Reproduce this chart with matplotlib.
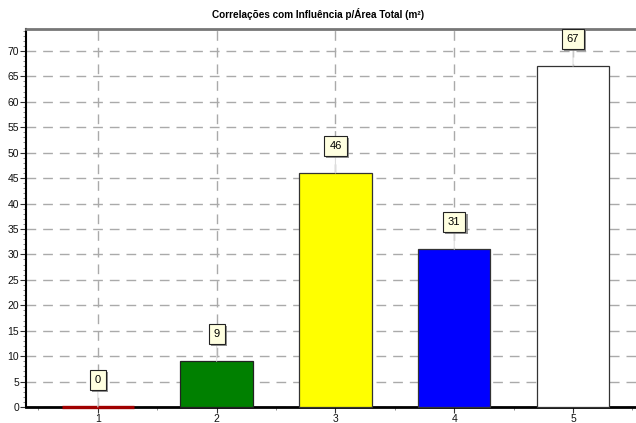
import matplotlib.pyplot as plt
import matplotlib.patheffects as pe
from matplotlib.ticker import MultipleLocator

plt.rcParams['font.family'] = ['Liberation Sans', 'DejaVu Sans']

# dados
categorias = [1, 2, 3, 4, 5]
valores = [0, 9, 46, 31, 67]
cores = ['#b00000', '#008000', '#ffff00', '#0000ff', '#ffffff']
bordas = ['#a00000', '#222222', '#333333', '#333333', '#333333']
titulo = 'Correlações com Influência p/Área Total (m²)'

fig = plt.figure(figsize=(6.36, 4.23), dpi=100)
ax = fig.add_axes([26 / 636, 1 - 407 / 423, 610 / 636, 378 / 423])

barras = ax.bar(categorias, valores, width=0.61, color=cores, edgecolor=bordas,
                linewidth=[2.4, 0.9, 0.9, 0.9, 0.9], zorder=3)
for b in barras:
    b.set_clip_on(False)

ax.set_xlim(0.395, 5.53)
ax.set_ylim(0, 74.3)
ax.yaxis.set_major_locator(MultipleLocator(5))
ax.yaxis.set_minor_locator(MultipleLocator(1))
ax.xaxis.set_major_locator(MultipleLocator(1))
ax.xaxis.set_minor_locator(MultipleLocator(0.5))
ax.grid(True, which='major', linestyle=(0, (7, 5)), color='#aaaaaa',
        linewidth=1.0, zorder=0)
ax.tick_params(axis='both', which='major', labelsize=7.5, length=4,
               color='#333333', labelcolor='#111111', pad=1)
ax.tick_params(axis='both', which='minor', length=2, color='#777777')

ax.spines['left'].set_linewidth(1.5)
ax.spines['bottom'].set_linewidth(2)
ax.spines['top'].set_color('#777777')
ax.spines['top'].set_linewidth(2)
ax.spines['right'].set_visible(False)

# rótulos dos valores
for x, v in zip(categorias, valores):
    t = ax.annotate(str(v), xy=(x, v), xytext=(0, 19.5), textcoords='offset points',
                    ha='center', va='center', fontsize=8, zorder=5,
                    bbox=dict(boxstyle='square,pad=0.45', fc='#ffffe0', ec='#222222', lw=0.8),
                    arrowprops=dict(arrowstyle='-', color='#dddddd', lw=0.8,
                                    shrinkA=0, shrinkB=0))
    t.get_bbox_patch().set_path_effects([
        pe.SimplePatchShadow(offset=(1.5, -1.5), shadow_rgbFace='#777777', alpha=0.8),
        pe.Normal()])

fig.text(0.5, 1 - 14 / 423, titulo, ha='center', va='center',
         fontsize=7.2, fontweight='bold')

fig.savefig('out.png', dpi=100)
